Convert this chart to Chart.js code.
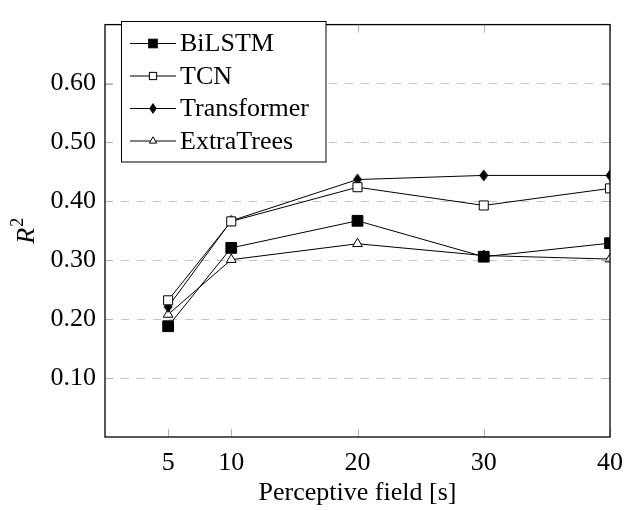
<!DOCTYPE html>
<html lang="en">
<head>
    <meta charset="UTF-8">
    <title>R2 vs perceptive field</title>
    <script src="https://cdn.jsdelivr.net/npm/chart.js"></script>
    <style>
        html, body { margin: 0; padding: 0; background: #fff; }
        #box { width: 636px; height: 510px; }
    </style>
</head>
<body>
    <div id="box"><canvas id="grafico"></canvas></div>

    <script>
        // dados
        const campos = [5, 10, 20, 30, 40];
        const biLSTM = [0.188, 0.321, 0.367, 0.306, 0.329];
        const tcn = [0.232, 0.366, 0.424, 0.393, 0.422];
        const transformer = [0.221, 0.367, 0.437, 0.444, 0.444];
        const extraTrees = [0.208, 0.301, 0.328, 0.308, 0.302];

        const xTicks = [5, 10, 20, 30, 40];
        const yTicks = [0.1, 0.2, 0.3, 0.4, 0.5, 0.6];

        const FONTE = '"Liberation Serif", "Times New Roman", serif';
        const TAM = 26;

        // losango mais alto que largo (como no pgfplots)
        function criarLosango() {
            const c = document.createElement('canvas');
            c.width = 10; c.height = 13;
            const g = c.getContext('2d');
            g.fillStyle = '#000';
            g.beginPath();
            g.moveTo(5, 0.5); g.lineTo(9.5, 6.5); g.lineTo(5, 12.5); g.lineTo(0.5, 6.5);
            g.closePath();
            g.fill();
            return c;
        }
        const losango = criarLosango();

        function serie(label, valores, estilo, raio, fundo) {
            return {
                label: label,
                data: valores.map((v, i) => ({ x: campos[i], y: v })),
                borderColor: '#000',
                borderWidth: 1,
                pointStyle: estilo,
                pointRadius: raio,
                pointBackgroundColor: fundo,
                pointBorderColor: '#000',
                pointBorderWidth: 1,
                tension: 0
            };
        }

        const dados = {
            datasets: [
                serie('BiLSTM', biLSTM, 'rect', 7.6, '#000'),
                serie('TCN', tcn, 'rect', 6.4, '#fff'),
                serie('Transformer', transformer, losango, 6, '#000'),
                serie('ExtraTrees', extraTrees, 'triangle', 5.6, '#fff')
            ]
        };
        // ordem de desenho: ultima serie embaixo
        dados.datasets.forEach((d, i) => d.order = i);

        // desenha um marcador na legenda
        function marcador(ctx, ds, x, y) {
            ctx.save();
            ctx.lineWidth = 1;
            ctx.strokeStyle = '#000';
            ctx.fillStyle = ds.pointBackgroundColor;
            if (ds.pointStyle === 'rect') {
                const s = ds.pointRadius * Math.SQRT1_2 * 0.8;
                ctx.fillRect(x - s, y - s, 2 * s, 2 * s);
                ctx.strokeRect(x - s, y - s, 2 * s, 2 * s);
            } else if (ds.pointStyle === 'triangle') {
                const r = ds.pointRadius * 0.75;
                ctx.beginPath();
                ctx.moveTo(x, y - r);
                ctx.lineTo(x + r * 0.866, y + r * 0.5);
                ctx.lineTo(x - r * 0.866, y + r * 0.5);
                ctx.closePath();
                ctx.fill();
                ctx.stroke();
            } else {
                ctx.fillStyle = '#000';
                ctx.beginPath();
                ctx.moveTo(x, y - 5.5); ctx.lineTo(x + 3.8, y);
                ctx.lineTo(x, y + 5.5); ctx.lineTo(x - 3.8, y);
                ctx.closePath();
                ctx.fill();
            }
            ctx.restore();
        }

        const molduraPlugin = {
            id: 'moldura',
            afterDatasetsDraw(chart) {
                const ctx = chart.ctx;
                const a = chart.chartArea;
                const sx = chart.scales.x, sy = chart.scales.y;
                ctx.save();

                // marcas de tick internas
                ctx.strokeStyle = '#b4b4b4';
                ctx.lineWidth = 1;
                ctx.beginPath();
                xTicks.forEach(v => {
                    const px = Math.round(sx.getPixelForValue(v)) + 0.5;
                    ctx.moveTo(px, a.bottom); ctx.lineTo(px, a.bottom - 8);
                    ctx.moveTo(px, a.top); ctx.lineTo(px, a.top + 8);
                });
                yTicks.forEach(v => {
                    const py = Math.round(sy.getPixelForValue(v)) + 0.5;
                    ctx.moveTo(a.left, py); ctx.lineTo(a.left + 8, py);
                    ctx.moveTo(a.right, py); ctx.lineTo(a.right - 8, py);
                });
                ctx.stroke();

                // moldura
                ctx.strokeStyle = '#000';
                ctx.lineWidth = 1.3;
                ctx.strokeRect(a.left, a.top, a.right - a.left, a.bottom - a.top);

                // legenda
                const lx = 121.5, ly = 21.5, lw = 204.5, lh = 140.5;
                ctx.fillStyle = '#fff';
                ctx.fillRect(lx, ly, lw, lh);
                ctx.lineWidth = 1;
                ctx.strokeRect(lx, ly, lw, lh);

                ctx.font = TAM + 'px ' + FONTE;
                ctx.textBaseline = 'middle';
                ctx.textAlign = 'left';
                chart.data.datasets.forEach((ds, i) => {
                    const y = 43.5 + i * 32.5;
                    ctx.strokeStyle = '#000';
                    ctx.lineWidth = 1;
                    ctx.beginPath();
                    ctx.moveTo(130, y); ctx.lineTo(176, y);
                    ctx.stroke();
                    marcador(ctx, ds, 153, y);
                    ctx.fillStyle = '#000';
                    ctx.fillText(ds.label, 180, y + 1);
                });

                // titulo do eixo y: R^2
                ctx.translate(25, (a.top + a.bottom) / 2);
                ctx.rotate(-Math.PI / 2);
                ctx.textBaseline = 'alphabetic';
                ctx.font = 'italic ' + TAM + 'px ' + FONTE;
                const wR = ctx.measureText('R').width;
                ctx.font = '18px ' + FONTE;
                const w2 = ctx.measureText('2').width;
                const x0 = -(wR + w2 + 1) / 2;
                ctx.font = 'italic ' + TAM + 'px ' + FONTE;
                ctx.fillText('R', x0, 9);
                ctx.font = '18px ' + FONTE;
                ctx.fillText('2', x0 + wR + 1, -2);

                ctx.restore();
            }
        };

        const config = {
            type: 'line',
            data: dados,
            options: {
                responsive: true,
                maintainAspectRatio: false,
                animation: false,
                layout: { padding: { left: 0, right: 26, top: 8.5, bottom: 0 } },
                plugins: {
                    legend: { display: false },
                    tooltip: { enabled: false }
                },
                scales: {
                    x: {
                        type: 'linear',
                        min: 0,
                        max: 40,
                        afterBuildTicks: (eixo) => { eixo.ticks = xTicks.map(v => ({ value: v })); },
                        afterFit: (eixo) => { eixo.height = 73; },
                        grid: { display: false },
                        border: { display: false },
                        ticks: {
                            color: '#000',
                            padding: 3,
                            maxRotation: 0,
                            font: { family: FONTE, size: TAM },
                            callback: (v) => v
                        },
                        title: {
                            display: true,
                            text: 'Perceptive field [s]',
                            color: '#000',
                            padding: { top: 0, bottom: 1 },
                            font: { family: FONTE, size: TAM }
                        }
                    },
                    y: {
                        min: 0,
                        max: 0.7,
                        afterBuildTicks: (eixo) => { eixo.ticks = yTicks.map(v => ({ value: v })); },
                        afterFit: (eixo) => { eixo.width = 105; },
                        grid: {
                            color: '#c4c4c4',
                            lineWidth: 1,
                            drawTicks: false
                        },
                        border: { display: false, dash: [8, 8] },
                        ticks: {
                            color: '#000',
                            padding: 9,
                            font: { family: FONTE, size: TAM },
                            callback: (v) => v.toFixed(2)
                        }
                    }
                }
            },
            plugins: [molduraPlugin]
        };

        new Chart(document.getElementById('grafico'), config);
    </script>
</body>
</html>
